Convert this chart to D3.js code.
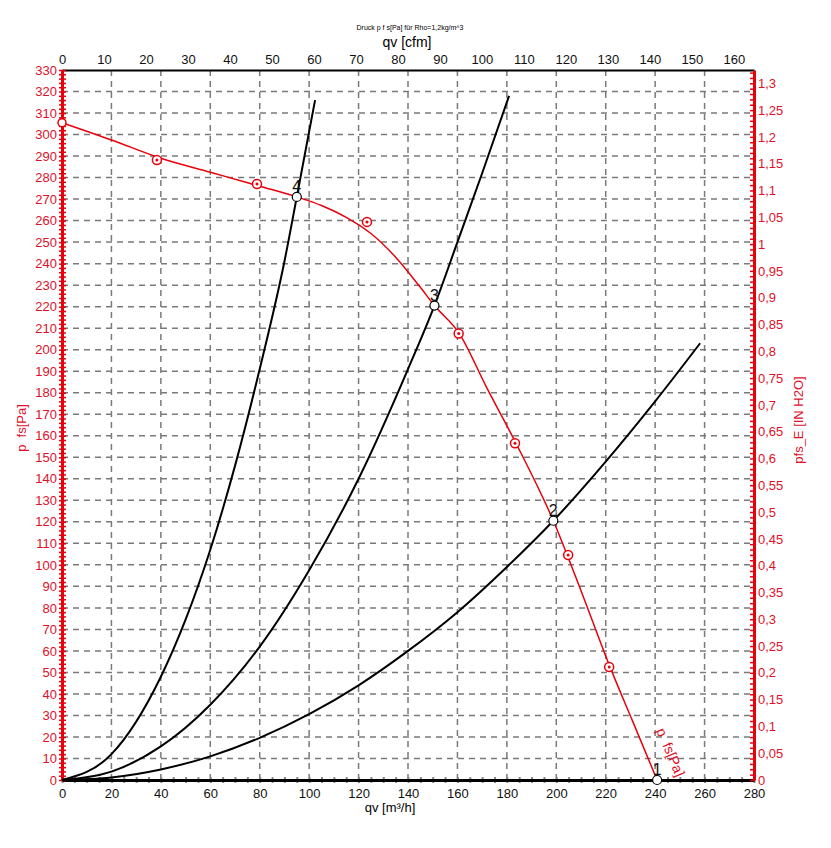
<!DOCTYPE html>
<html>
<head>
<meta charset="utf-8">
<script src="https://cdn.jsdelivr.net/npm/d3@7"></script>
<style>
  body { margin: 0; background: #fff; }
  text { font-family: "Liberation Sans", Arial, sans-serif; }
</style>
</head>
<body>
<script>
// Fan curve p_fs [Pa] over qv [m3/h]
let fanQ = [0, 20, 40, 60, 80, 95, 105, 115, 125, 135, 145, 150.7, 160.7, 172, 183.7, 198.8, 210, 221.4, 231, 240.8];
let fanP = [305.5, 297.5, 289, 282.5, 276, 271, 267, 261.5, 254, 243, 229, 220.5, 207.6, 182, 156.5, 120.5, 88, 53.5, 27, 0];

// measured points (red rings)
let measQ = [38.4, 78.9, 123.4, 160.5, 183.3, 204.8, 221.4];
let measP = [288.2, 277, 259.4, 207.5, 156.5, 104.6, 52.5];

// system curves (black)
let sys2Q = [0, 20, 40, 60, 80, 100, 120, 140, 160, 180, 198.8, 220, 240, 258.2];
let sys2P = [0, 1.2, 4.9, 11, 19.6, 30.6, 44, 60, 78, 99, 120.5, 148, 176, 203];
let sys3Q = [0, 20, 40, 60, 80, 100, 120, 140, 150.7, 160, 170, 180.9];
let sys3P = [0, 3.9, 15.6, 35, 62, 97.5, 140, 191, 220.5, 250, 282, 318];
let sys4Q = [0, 20, 40, 50, 60, 70, 80, 90, 95, 102.4];
let sys4P = [0, 12, 48, 74.5, 107, 146, 191, 241, 271, 316];

// operating points
let opQ = [240.8, 198.8, 150.7, 95];
let opP = [0, 120.5, 220.5, 271];
let opLabels = ["1", "2", "3", "4"];

let width = 831;
let height = 848;
let margin = { top: 70, bottom: 68, left: 62, right: 77 };
let red = "#e8000b";
let redText = "#e0102a";
let M3H_TO_CFM = 0.58858;
let PA_PER_INH2O = 249.09;

let svg = d3.select("body")
  .append("svg")
  .attr("width", width)
  .attr("height", height)
  .style("background", "white");

let xScale = d3.scaleLinear().domain([0, 280]).range([margin.left, width - margin.right]);
let yScale = d3.scaleLinear().domain([0, 330]).range([height - margin.bottom, margin.top]);
let xTop = d3.scaleLinear().domain([0, 280 * M3H_TO_CFM]).range(xScale.range());
let yRight = d3.scaleLinear().domain([0, 330 / PA_PER_INH2O]).range(yScale.range());

let x0 = margin.left, x1 = width - margin.right;
let y0 = height - margin.bottom, y1 = margin.top;

// grid
svg.append("g")
  .selectAll("line")
  .data(d3.range(10, 330, 10))
  .join("line")
  .attr("x1", x0).attr("x2", x1)
  .attr("y1", d => yScale(d)).attr("y2", d => yScale(d))
  .attr("stroke", "#7a7a7a").attr("stroke-width", 1.5).attr("stroke-dasharray", "6,5");

svg.append("g")
  .selectAll("line")
  .data(d3.range(20, 280, 20))
  .join("line")
  .attr("x1", d => xScale(d)).attr("x2", d => xScale(d))
  .attr("y1", y0).attr("y2", y1)
  .attr("stroke", "#7a7a7a").attr("stroke-width", 1.5).attr("stroke-dasharray", "6,5");

function comma(d) {
  return String(+d.toFixed(2)).replace(".", ",");
}

// bottom axis - minor ticks
svg.append("g")
  .attr("transform", `translate(0, ${y0})`)
  .call(d3.axisBottom(xScale).tickValues(d3.range(0, 281, 5)).tickSize(3).tickFormat(""))
  .call(g => g.select(".domain").remove())
  .call(g => g.selectAll("line").attr("stroke", "#888").attr("stroke-width", 2).attr("y1", -3));

// bottom axis
svg.append("g")
  .attr("transform", `translate(0, ${y0})`)
  .call(d3.axisBottom(xScale).tickValues(d3.range(0, 281, 20)).tickSize(0).tickPadding(9))
  .call(g => g.select(".domain").attr("stroke", "black").attr("stroke-width", 3))
  .call(g => g.selectAll("text").attr("font-size", 13).attr("fill", "#111").style("font-family", "Liberation Sans, Arial"));

// top axis
svg.append("g")
  .attr("transform", `translate(0, ${y1})`)
  .call(d3.axisTop(xTop).tickValues(d3.range(0, 161, 10)).tickSize(0).tickPadding(6))
  .call(g => g.select(".domain").attr("stroke", "black").attr("stroke-width", 2))
  .call(g => g.selectAll("text").attr("font-size", 13).attr("fill", "#111").style("font-family", "Liberation Sans, Arial"));

// left axis - minor ticks
svg.append("g")
  .attr("transform", `translate(${x0}, 0)`)
  .call(d3.axisLeft(yScale).tickValues(d3.range(0, 331, 2)).tickSize(3).tickFormat(""))
  .call(g => g.select(".domain").remove())
  .call(g => g.selectAll("line").attr("stroke", red).attr("stroke-width", 1.5).attr("x2", 4).attr("x1", -3));

// left axis
svg.append("g")
  .attr("transform", `translate(${x0}, 0)`)
  .call(d3.axisLeft(yScale).tickValues(d3.range(0, 331, 10)).tickSize(0).tickPadding(5))
  .call(g => g.select(".domain").attr("stroke", red).attr("stroke-width", 3))
  .call(g => g.selectAll("text").attr("font-size", 13).attr("fill", redText).style("font-family", "Liberation Sans, Arial"));

// right axis - minor ticks
svg.append("g")
  .attr("transform", `translate(${x1}, 0)`)
  .call(d3.axisRight(yRight).tickValues(d3.range(0, 1.3201, 0.01)).tickSize(4).tickFormat(""))
  .call(g => g.select(".domain").remove())
  .call(g => g.selectAll("line").attr("stroke", red).attr("stroke-width", 1.5).attr("x1", -4).attr("x2", 1));

// right axis
svg.append("g")
  .attr("transform", `translate(${x1}, 0)`)
  .call(d3.axisRight(yRight).tickValues(d3.range(0, 1.3001, 0.05)).tickSize(0).tickPadding(4).tickFormat(comma))
  .call(g => g.select(".domain").attr("stroke", red).attr("stroke-width", 3))
  .call(g => g.selectAll("text").attr("font-size", 13).attr("fill", redText).style("font-family", "Liberation Sans, Arial"));

// titles
svg.append("text")
  .attr("x", 410).attr("y", 30)
  .attr("text-anchor", "middle")
  .attr("font-size", 7)
  .text("Druck p f s[Pa] für Rho=1,2kg/m^3");

svg.append("text")
  .attr("x", 407).attr("y", 47)
  .attr("text-anchor", "middle")
  .attr("font-size", 14)
  .text("qv [cfm]");

svg.append("text")
  .attr("x", 390).attr("y", 812)
  .attr("text-anchor", "middle")
  .attr("font-size", 13)
  .text("qv [m³/h]");

svg.append("text")
  .attr("transform", "translate(26, 428) rotate(-90)")
  .attr("text-anchor", "middle")
  .attr("font-size", 13)
  .attr("fill", redText)
  .style("white-space", "pre")
  .text("p  fs[Pa]");

svg.append("text")
  .attr("transform", "translate(803, 420) rotate(-90)")
  .attr("text-anchor", "middle")
  .attr("font-size", 13)
  .attr("fill", redText)
  .text("pfs_E [IN H2O]");

// curves
let line = d3.line()
  .x(d => xScale(d[0]))
  .y(d => yScale(d[1]))
  .curve(d3.curveMonotoneX);

[[sys2Q, sys2P], [sys3Q, sys3P], [sys4Q, sys4P]].forEach(([qs, ps]) => {
  svg.append("path")
    .datum(d3.zip(qs, ps))
    .attr("d", line)
    .attr("fill", "none")
    .attr("stroke", "black")
    .attr("stroke-width", 2);
});

svg.append("path")
  .datum(d3.zip(fanQ, fanP))
  .attr("d", line)
  .attr("fill", "none")
  .attr("stroke", red)
  .attr("stroke-width", 1.5);

// measured points
let meas = svg.append("g")
  .selectAll("g")
  .data(d3.zip(measQ, measP))
  .join("g")
  .attr("transform", d => `translate(${xScale(d[0])}, ${yScale(d[1])})`);

meas.append("circle")
  .attr("r", 4.5)
  .attr("fill", "white")
  .attr("stroke", red)
  .attr("stroke-width", 1.5);

meas.append("circle")
  .attr("r", 1.5)
  .attr("fill", red);

// start point ring on the axis
svg.append("circle")
  .attr("cx", xScale(fanQ[0]))
  .attr("cy", yScale(fanP[0]))
  .attr("r", 4)
  .attr("fill", "white")
  .attr("stroke", red)
  .attr("stroke-width", 1.5);

// operating points
let ops = svg.append("g")
  .selectAll("g")
  .data(d3.zip(opQ, opP, opLabels))
  .join("g")
  .attr("transform", d => `translate(${xScale(d[0])}, ${yScale(d[1])})`);

ops.append("circle")
  .attr("r", 4.5)
  .attr("fill", "white")
  .attr("stroke", "black")
  .attr("stroke-width", 1.2);

ops.append("text")
  .attr("x", 0)
  .attr("y", -5)
  .attr("text-anchor", "middle")
  .attr("font-size", 16)
  .attr("fill", "#111")
  .text(d => d[2]);

// curve name along the red line
svg.append("text")
  .attr("transform", `translate(${xScale(fanQ[fanQ.length - 1]) + 9}, ${yScale(12)}) rotate(67)`)
  .attr("text-anchor", "middle")
  .attr("font-size", 14)
  .attr("fill", redText)
  .style("white-space", "pre")
  .text("p  fs[Pa]");
</script>
</body>
</html>
